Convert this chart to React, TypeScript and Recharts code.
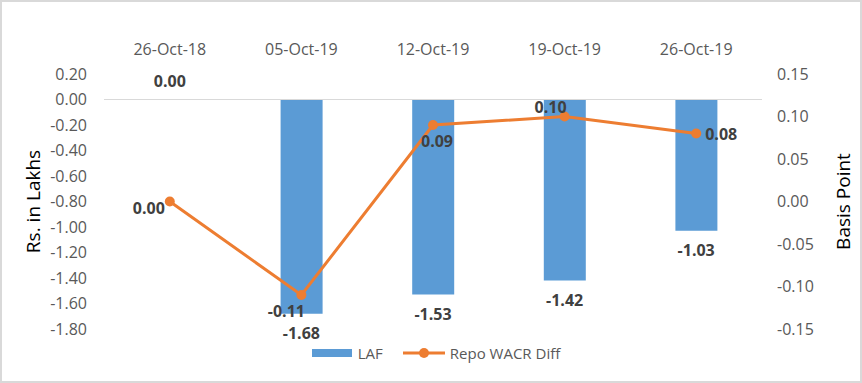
import {
  Bar,
  ComposedChart,
  LabelList,
  Legend,
  Line,
  ReferenceLine,
  XAxis,
  YAxis,
} from "recharts";

const weeks = ["26-Oct-18", "05-Oct-19", "12-Oct-19", "19-Oct-19", "26-Oct-19"];
const lafValues = [0.0, -1.68, -1.53, -1.42, -1.03];
const repoWacrDiff = [0.0, -0.11, 0.09, 0.1, 0.08];
const leftTicks = [0.2, 0, -0.2, -0.4, -0.6, -0.8, -1.0, -1.2, -1.4, -1.6, -1.8];
const rightTicks = [0.15, 0.1, 0.05, 0, -0.05, -0.1, -0.15];

const data = weeks.map((week, i) => ({
  week,
  laf: lafValues[i],
  diff: repoWacrDiff[i],
}));

// hand-placed offsets for the line labels, like the source chart
const LINE_LABEL_OFFSETS: Array<[number, number]> = [
  [-21, 6],
  [-15, 16],
  [4, 16],
  [-14, -10],
  [25, 0],
];

const FONT = "'Open Sans', 'Noto Sans', sans-serif";
const TICK = { fontSize: 16, fill: "#595959", fontFamily: FONT };
const LABEL_COLOR = "#404040";
const BAR_COLOR = "#5b9bd5";
const LINE_COLOR = "#ed7d31";

function valueText(x: number, y: number, value: number) {
  return (
    <text
      x={x}
      y={y}
      textAnchor="middle"
      dominantBaseline="central"
      fontSize={16}
      fontWeight="bold"
      fontFamily={FONT}
      fill={LABEL_COLOR}
    >
      {Number(value).toFixed(2)}
    </text>
  );
}

// labels for the bars sit just past the bar end (above when the value is 0)
function BarValueLabel(props: any) {
  const { x, y, value } = props;
  return valueText(x, value < 0 ? y + 19 : y - 19, value);
}

function LineValueLabel(props: any) {
  const { x, y, value, index } = props;
  const [dx, dy] = LINE_LABEL_OFFSETS[index] ?? [0, -12];
  return valueText(x + dx, y + dy, value);
}

function LegendContent() {
  return (
    <div
      style={{
        height: 38,
        boxSizing: "border-box",
        paddingTop: 10,
        display: "flex",
        justifyContent: "center",
        alignItems: "center",
        fontFamily: FONT,
        fontSize: 15,
        color: "#595959",
      }}
    >
      <svg width={40} height={8} style={{ marginRight: 6 }}>
        <rect width={40} height={8} fill={BAR_COLOR} />
      </svg>
      <span style={{ marginRight: 20 }}>LAF</span>
      <svg width={42} height={12} style={{ marginRight: 5 }}>
        <line x1={0} y1={6} x2={42} y2={6} stroke={LINE_COLOR} strokeWidth={3} />
        <circle cx={21} cy={6} r={5} fill={LINE_COLOR} />
      </svg>
      <span>Repo WACR Diff</span>
    </div>
  );
}

export default function App() {
  return (
    <div
      style={{
        position: "absolute",
        left: 0,
        top: 0,
        width: 862,
        height: 383,
        border: "2px solid #d9d9d9",
        boxSizing: "border-box",
        background: "#fff",
      }}
    >
      <ComposedChart
        width={858}
        height={379}
        data={data}
        margin={{ top: 42, right: 8, left: 18, bottom: 14 }}
        style={{ fontFamily: FONT }}
      >
        <XAxis
          dataKey="week"
          orientation="top"
          height={30}
          axisLine={false}
          tickLine={false}
          tickSize={0}
          tickMargin={19}
          tick={TICK}
          interval={0}
        />
        <YAxis
          yAxisId="left"
          width={84}
          domain={[-1.8, 0.2]}
          ticks={leftTicks}
          interval={0}
          axisLine={false}
          tickLine={false}
          tickSize={0}
          tickMargin={17}
          tick={TICK}
          tickFormatter={(v: number) => v.toFixed(2)}
          label={{
            value: "Rs. in Lakhs",
            angle: -90,
            position: "insideLeft",
            textAnchor: "middle",
            offset: 13,
            style: { fontSize: 19, fill: "#000", fontFamily: FONT },
          }}
        />
        <YAxis
          yAxisId="right"
          orientation="right"
          width={90}
          domain={[-0.15, 0.15]}
          ticks={rightTicks}
          interval={0}
          axisLine={false}
          tickLine={false}
          tickSize={0}
          tickMargin={15}
          tick={TICK}
          tickFormatter={(v: number) => v.toFixed(2)}
          label={{
            value: "Basis Point",
            angle: -90,
            position: "insideRight",
            textAnchor: "middle",
            offset: 9,
            style: { fontSize: 19, fill: "#000", fontFamily: FONT },
          }}
        />
        <ReferenceLine yAxisId="left" y={0} stroke="#d9d9d9" strokeWidth={1} />
        <Legend verticalAlign="bottom" height={38} content={LegendContent} />
        <Bar
          yAxisId="left"
          dataKey="laf"
          name="LAF"
          fill={BAR_COLOR}
          barSize={42}
          isAnimationActive={false}
        />
        {/* invisible carrier for the bar value labels, so the 0.00 one shows too */}
        <Line
          yAxisId="left"
          dataKey="laf"
          stroke="none"
          dot={false}
          activeDot={false}
          legendType="none"
          isAnimationActive={false}
        >
          <LabelList dataKey="laf" content={BarValueLabel} />
        </Line>
        <Line
          yAxisId="right"
          dataKey="diff"
          name="Repo WACR Diff"
          stroke={LINE_COLOR}
          strokeWidth={3}
          dot={{ r: 5, fill: LINE_COLOR, stroke: LINE_COLOR, strokeWidth: 0 }}
          isAnimationActive={false}
        >
          <LabelList dataKey="diff" content={LineValueLabel} />
        </Line>
      </ComposedChart>
    </div>
  );
}
